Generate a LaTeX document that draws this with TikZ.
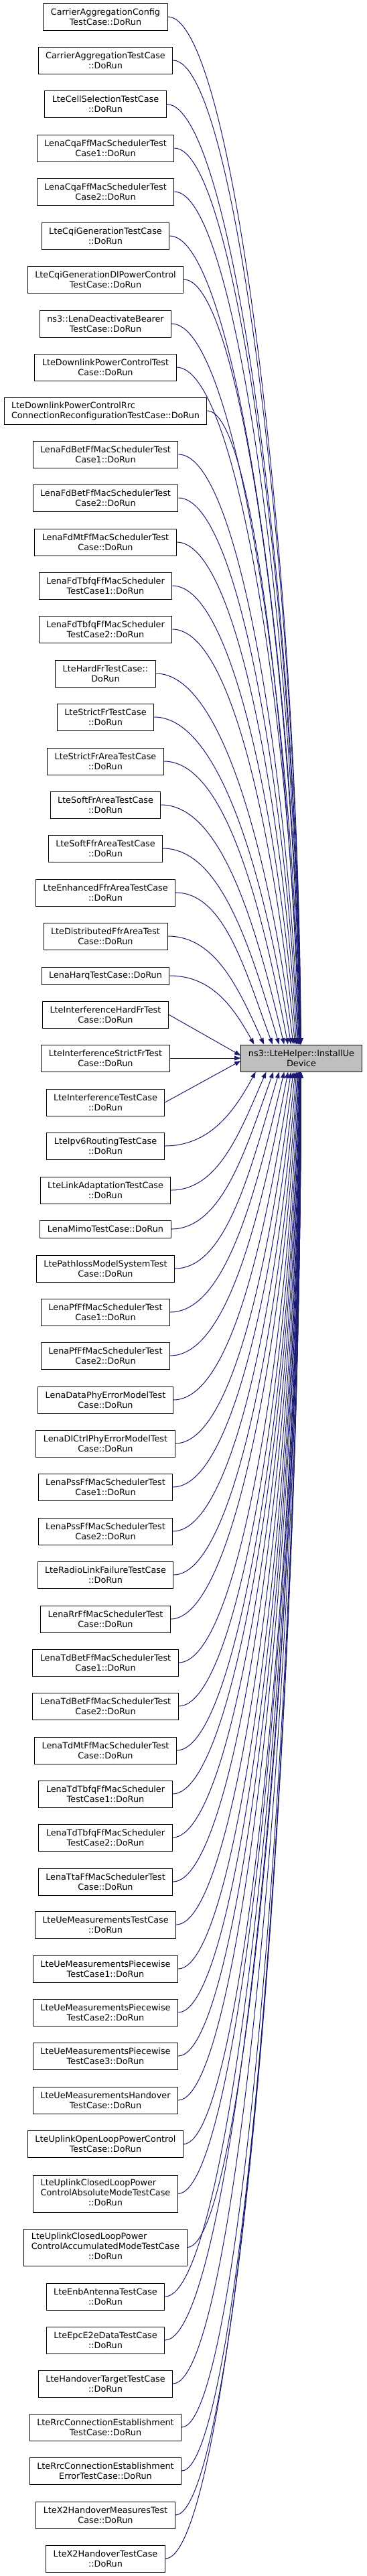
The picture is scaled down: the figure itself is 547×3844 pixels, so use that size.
\documentclass[tikz,border=0pt]{standalone}
\usepackage{fontspec}
\setmainfont{DejaVu Sans}
\usetikzlibrary{arrows.meta,calc}
\definecolor{midblue}{RGB}{25,25,112}
\definecolor{greyfill}{RGB}{191,191,191}
\newcommand\tlbox[3]{\begin{tabular}{@{}l@{}}#1\\#2\\\multicolumn{1}{@{}c@{}}{#3}\end{tabular}}
\begin{document}
\begin{tikzpicture}[x=0.75pt,y=-0.75pt,
  cl/.style={draw=black, fill=white, line width=0.75pt, font=\fontsize{9.6pt}{11.25pt}\selectfont, align=center, inner xsep=8.25pt, inner ysep=0pt, minimum height=30pt},
  one/.style={cl, minimum height=19.5pt},
  three/.style={cl, minimum height=41.25pt},
  tgtbox/.style={cl, fill=greyfill},
  edge/.style={draw=midblue, line width=0.75pt, -{Triangle[length=7pt,width=5pt]}}]
\fill[white] (0,0) rectangle (547,3844);
\useasboundingbox (0,0) rectangle (547,3844);
\node[tgtbox] (tgt) at (450,1579) {ns3::LteHelper::InstallUe\\Device};
\node[cl] (c1) at (157.5,25) {CarrierAggregationConfig\\TestCase::DoRun};
\node[cl] (c2) at (157.5,90) {CarrierAggregationTestCase\\::DoRun};
\node[cl] (c3) at (157.5,155.5) {LteCellSelectionTestCase\\::DoRun};
\node[cl] (c4) at (157.5,221) {LenaCqaFfMacSchedulerTest\\Case1::DoRun};
\node[cl] (c5) at (157.5,286) {LenaCqaFfMacSchedulerTest\\Case2::DoRun};
\node[cl] (c6) at (157.5,352) {LteCqiGenerationTestCase\\::DoRun};
\node[cl] (c7) at (157.5,417) {LteCqiGenerationDlPowerControl\\TestCase::DoRun};
\node[cl] (c8) at (157.5,483) {ns3::LenaDeactivateBearer\\TestCase::DoRun};
\node[cl] (c9) at (157.5,548) {LteDownlinkPowerControlTest\\Case::DoRun};
\node[cl,align=left] (c10) at (157.5,613) {LteDownlinkPowerControlRrc\\ConnectionReconfigurationTestCase::DoRun};
\node[cl] (c11) at (157.5,678) {LenaFdBetFfMacSchedulerTest\\Case1::DoRun};
\node[cl] (c12) at (157.5,743) {LenaFdBetFfMacSchedulerTest\\Case2::DoRun};
\node[cl] (c13) at (157.5,809) {LenaFdMtFfMacSchedulerTest\\Case::DoRun};
\node[cl] (c14) at (157.5,874) {LenaFdTbfqFfMacScheduler\\TestCase1::DoRun};
\node[cl] (c15) at (157.5,939) {LenaFdTbfqFfMacScheduler\\TestCase2::DoRun};
\node[cl] (c16) at (157.5,1005) {LteHardFrTestCase::\\DoRun};
\node[cl] (c17) at (157.5,1070) {LteStrictFrTestCase\\::DoRun};
\node[cl] (c18) at (157.5,1136) {LteStrictFrAreaTestCase\\::DoRun};
\node[cl] (c19) at (157.5,1201) {LteSoftFrAreaTestCase\\::DoRun};
\node[cl] (c20) at (157.5,1266) {LteSoftFfrAreaTestCase\\::DoRun};
\node[cl] (c21) at (157.5,1332) {LteEnhancedFfrAreaTestCase\\::DoRun};
\node[cl] (c22) at (157.5,1397) {LteDistributedFfrAreaTest\\Case::DoRun};
\node[one] (c23) at (157.5,1456) {LenaHarqTestCase::DoRun};
\node[cl] (c24) at (157.5,1514) {LteInterferenceHardFrTest\\Case::DoRun};
\node[cl] (c25) at (157.5,1579) {LteInterferenceStrictFrTest\\Case::DoRun};
\node[cl] (c26) at (157.5,1645) {LteInterferenceTestCase\\::DoRun};
\node[cl] (c27) at (157.5,1710) {LteIpv6RoutingTestCase\\::DoRun};
\node[cl] (c28) at (157.5,1776) {LteLinkAdaptationTestCase\\::DoRun};
\node[one] (c29) at (157.5,1834) {LenaMimoTestCase::DoRun};
\node[cl] (c30) at (157.5,1893) {LtePathlossModelSystemTest\\Case::DoRun};
\node[cl] (c31) at (157.5,1958) {LenaPfFfMacSchedulerTest\\Case1::DoRun};
\node[cl] (c32) at (157.5,2023) {LenaPfFfMacSchedulerTest\\Case2::DoRun};
\node[cl] (c33) at (157.5,2089) {LenaDataPhyErrorModelTest\\Case::DoRun};
\node[cl] (c34) at (157.5,2154) {LenaDlCtrlPhyErrorModelTest\\Case::DoRun};
\node[cl] (c35) at (157.5,2219) {LenaPssFfMacSchedulerTest\\Case1::DoRun};
\node[cl] (c36) at (157.5,2285) {LenaPssFfMacSchedulerTest\\Case2::DoRun};
\node[cl] (c37) at (157.5,2350) {LteRadioLinkFailureTestCase\\::DoRun};
\node[cl] (c38) at (157.5,2416) {LenaRrFfMacSchedulerTest\\Case::DoRun};
\node[cl] (c39) at (157.5,2481) {LenaTdBetFfMacSchedulerTest\\Case1::DoRun};
\node[cl] (c40) at (157.5,2546) {LenaTdBetFfMacSchedulerTest\\Case2::DoRun};
\node[cl] (c41) at (157.5,2612) {LenaTdMtFfMacSchedulerTest\\Case::DoRun};
\node[cl] (c42) at (157.5,2677) {LenaTdTbfqFfMacScheduler\\TestCase1::DoRun};
\node[cl] (c43) at (157.5,2742) {LenaTdTbfqFfMacScheduler\\TestCase2::DoRun};
\node[cl] (c44) at (157.5,2808) {LenaTtaFfMacSchedulerTest\\Case::DoRun};
\node[cl] (c45) at (157.5,2872) {LteUeMeasurementsTestCase\\::DoRun};
\node[cl] (c46) at (157.5,2938) {LteUeMeasurementsPiecewise\\TestCase1::DoRun};
\node[cl] (c47) at (157.5,3003) {LteUeMeasurementsPiecewise\\TestCase2::DoRun};
\node[cl] (c48) at (157.5,3068) {LteUeMeasurementsPiecewise\\TestCase3::DoRun};
\node[cl] (c49) at (157.5,3134) {LteUeMeasurementsHandover\\TestCase::DoRun};
\node[cl] (c50) at (157.5,3199.5) {LteUplinkOpenLoopPowerControl\\TestCase::DoRun};
\node[three] (c51) at (157.5,3273.5) {\tlbox{LteUplinkClosedLoopPower}{ControlAbsoluteModeTestCase}{::DoRun}};
\node[three] (c52) at (157.5,3353.5) {\tlbox{LteUplinkClosedLoopPower}{ControlAccumulatedModeTestCase}{::DoRun}};
\node[cl] (c53) at (157.5,3427) {LteEnbAntennaTestCase\\::DoRun};
\node[cl] (c54) at (157.5,3492) {LteEpcE2eDataTestCase\\::DoRun};
\node[cl] (c55) at (157.5,3557) {LteHandoverTargetTestCase\\::DoRun};
\node[cl] (c56) at (157.5,3622) {LteRrcConnectionEstablishment\\TestCase::DoRun};
\node[cl] (c57) at (157.5,3687) {LteRrcConnectionEstablishment\\ErrorTestCase::DoRun};
\node[cl] (c58) at (157.5,3753) {LteX2HandoverMeasuresTest\\Case::DoRun};
\node[cl] (c59) at (157.5,3818) {LteX2HandoverTestCase\\::DoRun};
\foreach \i/\yy in {1/25,2/90,3/155.5,4/221,5/286,6/352,7/417,8/483,9/548,10/613,11/678,12/743,13/809,14/874,15/939,16/1005,17/1070,18/1136,19/1201,20/1266,21/1332,22/1397,23/1456,24/1514,25/1579,26/1645,27/1710,28/1776,29/1834,30/1893,31/1958,32/2023,33/2089,34/2154,35/2219,36/2285,37/2350,38/2416,39/2481,40/2546,41/2612,42/2677,43/2742,44/2808,45/2872,46/2938,47/3003,48/3068,49/3134,50/3199.5,51/3273.5,52/3353.5,53/3427,54/3492,55/3557,56/3622,57/3687,58/3753,59/3818}{
  \pgfmathsetmacro\edist{abs(\yy-1579)}
  \ifdim\edist pt<30pt
    \draw[edge] (c\i.east) -- (tgt.west);
  \else\ifdim\edist pt<100pt
    \ifdim\yy pt<1579pt \def\eoff{-4}\else\def\eoff{4}\fi
    \coordinate (p\i) at ($(tgt.west)+(0,\eoff)$);
    \draw[edge] (c\i.east) -- (p\i);
  \else
    \pgfmathsetmacro\eff{90*(1-exp(-(\edist-60)/250))}
    \pgfmathsetmacro\ebb{0.45*\edist}
    \pgfmathsetmacro\eaa{0.6*exp(-(\edist-100)/300)*\ebb}
    \ifdim\yy pt<1579pt
      \coordinate (p\i) at ($(tgt.north west)+(\eff,0)$);
      \draw[edge] (c\i.east) .. controls ($(c\i.east)!0.5!(p\i |- c\i.east)$) and ($(p\i)+(-\eaa,-\ebb)$) .. (p\i);
    \else
      \coordinate (p\i) at ($(tgt.south west)+(\eff,0)$);
      \draw[edge] (c\i.east) .. controls ($(c\i.east)!0.5!(p\i |- c\i.east)$) and ($(p\i)+(-\eaa,\ebb)$) .. (p\i);
    \fi
  \fi\fi
}
\end{tikzpicture}
\end{document}
